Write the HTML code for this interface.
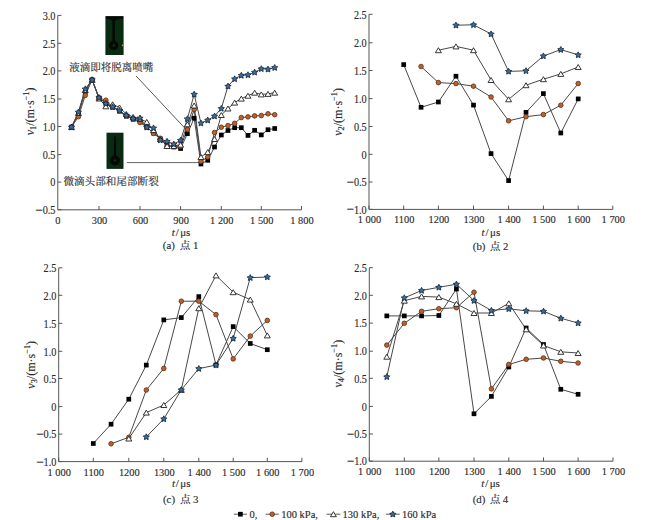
<!DOCTYPE html>
<html><head><meta charset="utf-8"><title>figure</title><style>html,body{margin:0;padding:0;background:#fff;width:650px;height:520px;overflow:hidden}svg{display:block}text{stroke:#333;stroke-width:.15px}</style></head><body>
<svg width="650" height="520" viewBox="0 0 650 520" font-family='"Liberation Serif", "Noto Serif CJK SC", serif' fill="#2a2a2a">
<rect width="650" height="520" fill="#fff"/>
<path d="M57.8,15.4 V209.8 H301.5" fill="none" stroke="#555" stroke-width="1"/>
<path d="M57.8,15.4 h3.6" stroke="#555" stroke-width="1"/>
<path d="M57.8,43.3 h3.6" stroke="#555" stroke-width="1"/>
<path d="M57.8,70.9 h3.6" stroke="#555" stroke-width="1"/>
<path d="M57.8,99 h3.6" stroke="#555" stroke-width="1"/>
<path d="M57.8,126.5 h3.6" stroke="#555" stroke-width="1"/>
<path d="M57.8,154.6 h3.6" stroke="#555" stroke-width="1"/>
<path d="M57.8,182.1 h3.6" stroke="#555" stroke-width="1"/>
<path d="M57.8,209.8 h3.6" stroke="#555" stroke-width="1"/>
<path d="M99,209.8 v-3.8" stroke="#555" stroke-width="1"/>
<path d="M140,209.8 v-3.8" stroke="#555" stroke-width="1"/>
<path d="M180.6,209.8 v-3.8" stroke="#555" stroke-width="1"/>
<path d="M221.3,209.8 v-3.8" stroke="#555" stroke-width="1"/>
<path d="M261.3,209.8 v-3.8" stroke="#555" stroke-width="1"/>
<path d="M301.5,209.8 v-3.8" stroke="#555" stroke-width="1"/>
<text transform="translate(55.5,19.6) scale(0.87,1)" text-anchor="end" font-size="11.8">3.0</text>
<text transform="translate(55.5,47.5) scale(0.87,1)" text-anchor="end" font-size="11.8">2.5</text>
<text transform="translate(55.5,75.1) scale(0.87,1)" text-anchor="end" font-size="11.8">2.0</text>
<text transform="translate(55.5,103.2) scale(0.87,1)" text-anchor="end" font-size="11.8">1.5</text>
<text transform="translate(55.5,130.7) scale(0.87,1)" text-anchor="end" font-size="11.8">1.0</text>
<text transform="translate(55.5,158.8) scale(0.87,1)" text-anchor="end" font-size="11.8">0.5</text>
<text transform="translate(55.5,186.3) scale(0.87,1)" text-anchor="end" font-size="11.8">0</text>
<text transform="translate(55.5,214) scale(0.87,1)" text-anchor="end" font-size="11.8"><tspan font-size="15" dy="0.8">−</tspan><tspan dy="-0.8">0.5</tspan></text>
<text transform="translate(99.5,223.7) scale(0.92,1)" text-anchor="middle" font-size="11.3">300</text>
<text transform="translate(140.5,223.7) scale(0.92,1)" text-anchor="middle" font-size="11.3">600</text>
<text transform="translate(181.1,223.7) scale(0.92,1)" text-anchor="middle" font-size="11.3">900</text>
<text transform="translate(221.8,223.7) scale(0.92,1)" text-anchor="middle" font-size="11.3">1 200</text>
<text transform="translate(261.8,223.7) scale(0.92,1)" text-anchor="middle" font-size="11.3">1 500</text>
<text transform="translate(302,223.7) scale(0.92,1)" text-anchor="middle" font-size="11.3">1 800</text>
<text transform="translate(57.8,223.7) scale(0.92,1)" text-anchor="middle" font-size="11.3">0</text>
<rect x="105.4" y="16.3" width="18.2" height="38.7" fill="#092b12"/><path d="M105.9,16.3 H123.1 V18.5 Q116.2,18.9 115,21.3 V41.6 H112.4 V21.3 Q111.2,18.9 105.9,18.5 Z" fill="#050a05"/><circle cx="113.7" cy="45.4" r="4.8" fill="#050a05"/><circle cx="113.7" cy="45.4" r="1.1" fill="#1a3a18"/>
<circle cx="122.6" cy="45.4" r="0.8" fill="#c89a3a"/>
<rect x="106.5" y="132.7" width="17" height="36.2" fill="#092b12"/><rect x="113.9" y="136.4" width="2.2" height="24" fill="#050a05"/><circle cx="115" cy="160.4" r="5" fill="#050a05"/><circle cx="115" cy="160.4" r="1.1" fill="#1a3a18"/>
<path d="M136.2,76.1 L186.4,129.8" stroke="#444" stroke-width="0.9"/>
<path d="M126.9,162.6 H199.5" stroke="#555" stroke-width="0.9"/>
<text x="69.2" y="71.0" font-size="10.5" fill="#2a2a2a" font-family='"Liberation Serif", "Noto Serif CJK SC", serif'>液滴即将脱离喷嘴</text>
<text x="63.4" y="184.8" font-size="10.6" fill="#2a2a2a" font-family='"Liberation Serif", "Noto Serif CJK SC", serif'>微滴头部和尾部断裂</text>
<polyline points="71.53,127.1 78.4,114 85.27,92 92.13,79.8 99,98 105.83,103 112.67,107 119.5,111 126.33,116 133.17,119 140,121 146.77,127 153.53,133 160.3,139 167.07,145 173.83,147 180.6,148.5 187.38,133.7 194.17,118.2 200.95,164 207.73,160.3 214.52,147 221.3,135 227.97,130.5 234.63,127.7 241.3,127.7 247.97,135.4 254.63,130.3 261.3,134.9 268,129.7 274.7,128.5" fill="none" stroke="#484848" stroke-width="1.0" stroke-linejoin="round"/>
<polyline points="71.53,127.1 78.4,116.7 85.27,95.4 92.13,79.8 99,98 105.83,100.2 112.67,107 119.5,111 126.33,116 133.17,119 140,122.6 146.77,127 153.53,133.4 160.3,138.3 167.07,146.1 173.83,146 180.6,146.4 187.38,129.6 194.17,109.6 200.95,161.5 207.73,157 214.52,132.5 221.3,127.2 227.97,125.6 234.63,123.3 241.3,117.6 247.97,116.9 254.63,115.9 261.3,115.6 268,113.8 274.7,114.7" fill="none" stroke="#484848" stroke-width="1.0" stroke-linejoin="round"/>
<polyline points="71.53,127.1 78.4,113 85.27,90 92.13,79.8 99,98.5 105.83,106.3 112.67,104.3 119.5,107.5 126.33,114 133.17,117 140,119 146.77,121.9 153.53,130 160.3,139 167.07,146 173.83,146 180.6,144.7 187.38,124.3 194.17,105.5 200.95,157 207.73,152.1 214.52,139 221.3,115 227.97,108.5 234.63,102.6 241.3,98.6 247.97,95.7 254.63,92.7 261.3,94.4 268,93.9 274.7,92.7" fill="none" stroke="#484848" stroke-width="1.0" stroke-linejoin="round"/>
<polyline points="71.53,127.1 78.4,112.1 85.27,89 92.13,79.8 99,97.7 105.83,103.5 112.67,106.9 119.5,110.4 126.33,115.5 133.17,118.6 140,118.1 146.77,127.3 153.53,128 160.3,140.1 167.07,141.4 173.83,144.1 180.6,140.3 187.38,118.9 194.17,94.3 200.95,123.1 207.73,120.2 214.52,116.1 221.3,108.5 227.97,86.2 234.63,78.9 241.3,75.4 247.97,74.9 254.63,72.3 261.3,68.8 268,69.2 274.7,67.6" fill="none" stroke="#484848" stroke-width="1.0" stroke-linejoin="round"/>
<rect x="69.18" y="124.75" width="4.7" height="4.7" fill="#000"/>
<rect x="76.05" y="111.65" width="4.7" height="4.7" fill="#000"/>
<rect x="82.92" y="89.65" width="4.7" height="4.7" fill="#000"/>
<rect x="89.78" y="77.45" width="4.7" height="4.7" fill="#000"/>
<rect x="96.65" y="95.65" width="4.7" height="4.7" fill="#000"/>
<rect x="103.48" y="100.65" width="4.7" height="4.7" fill="#000"/>
<rect x="110.32" y="104.65" width="4.7" height="4.7" fill="#000"/>
<rect x="117.15" y="108.65" width="4.7" height="4.7" fill="#000"/>
<rect x="123.98" y="113.65" width="4.7" height="4.7" fill="#000"/>
<rect x="130.82" y="116.65" width="4.7" height="4.7" fill="#000"/>
<rect x="137.65" y="118.65" width="4.7" height="4.7" fill="#000"/>
<rect x="144.42" y="124.65" width="4.7" height="4.7" fill="#000"/>
<rect x="151.18" y="130.65" width="4.7" height="4.7" fill="#000"/>
<rect x="157.95" y="136.65" width="4.7" height="4.7" fill="#000"/>
<rect x="164.72" y="142.65" width="4.7" height="4.7" fill="#000"/>
<rect x="171.48" y="144.65" width="4.7" height="4.7" fill="#000"/>
<rect x="178.25" y="146.15" width="4.7" height="4.7" fill="#000"/>
<rect x="185.03" y="131.35" width="4.7" height="4.7" fill="#000"/>
<rect x="191.82" y="115.85" width="4.7" height="4.7" fill="#000"/>
<rect x="198.6" y="161.65" width="4.7" height="4.7" fill="#000"/>
<rect x="205.38" y="157.95" width="4.7" height="4.7" fill="#000"/>
<rect x="212.17" y="144.65" width="4.7" height="4.7" fill="#000"/>
<rect x="218.95" y="132.65" width="4.7" height="4.7" fill="#000"/>
<rect x="225.62" y="128.15" width="4.7" height="4.7" fill="#000"/>
<rect x="232.28" y="125.35" width="4.7" height="4.7" fill="#000"/>
<rect x="238.95" y="125.35" width="4.7" height="4.7" fill="#000"/>
<rect x="245.62" y="133.05" width="4.7" height="4.7" fill="#000"/>
<rect x="252.28" y="127.95" width="4.7" height="4.7" fill="#000"/>
<rect x="258.95" y="132.55" width="4.7" height="4.7" fill="#000"/>
<rect x="265.65" y="127.35" width="4.7" height="4.7" fill="#000"/>
<rect x="272.35" y="126.15" width="4.7" height="4.7" fill="#000"/>
<circle cx="71.53" cy="127.1" r="2.3" fill="#bd612c" stroke="#5e2c10" stroke-width="0.8"/>
<circle cx="78.4" cy="116.7" r="2.3" fill="#bd612c" stroke="#5e2c10" stroke-width="0.8"/>
<circle cx="85.27" cy="95.4" r="2.3" fill="#bd612c" stroke="#5e2c10" stroke-width="0.8"/>
<circle cx="92.13" cy="79.8" r="2.3" fill="#bd612c" stroke="#5e2c10" stroke-width="0.8"/>
<circle cx="99" cy="98" r="2.3" fill="#bd612c" stroke="#5e2c10" stroke-width="0.8"/>
<circle cx="105.83" cy="100.2" r="2.3" fill="#bd612c" stroke="#5e2c10" stroke-width="0.8"/>
<circle cx="112.67" cy="107" r="2.3" fill="#bd612c" stroke="#5e2c10" stroke-width="0.8"/>
<circle cx="119.5" cy="111" r="2.3" fill="#bd612c" stroke="#5e2c10" stroke-width="0.8"/>
<circle cx="126.33" cy="116" r="2.3" fill="#bd612c" stroke="#5e2c10" stroke-width="0.8"/>
<circle cx="133.17" cy="119" r="2.3" fill="#bd612c" stroke="#5e2c10" stroke-width="0.8"/>
<circle cx="140" cy="122.6" r="2.3" fill="#bd612c" stroke="#5e2c10" stroke-width="0.8"/>
<circle cx="146.77" cy="127" r="2.3" fill="#bd612c" stroke="#5e2c10" stroke-width="0.8"/>
<circle cx="153.53" cy="133.4" r="2.3" fill="#bd612c" stroke="#5e2c10" stroke-width="0.8"/>
<circle cx="160.3" cy="138.3" r="2.3" fill="#bd612c" stroke="#5e2c10" stroke-width="0.8"/>
<circle cx="167.07" cy="146.1" r="2.3" fill="#bd612c" stroke="#5e2c10" stroke-width="0.8"/>
<circle cx="173.83" cy="146" r="2.3" fill="#bd612c" stroke="#5e2c10" stroke-width="0.8"/>
<circle cx="180.6" cy="146.4" r="2.3" fill="#bd612c" stroke="#5e2c10" stroke-width="0.8"/>
<circle cx="187.38" cy="129.6" r="2.3" fill="#bd612c" stroke="#5e2c10" stroke-width="0.8"/>
<circle cx="194.17" cy="109.6" r="2.3" fill="#bd612c" stroke="#5e2c10" stroke-width="0.8"/>
<circle cx="200.95" cy="161.5" r="2.3" fill="#bd612c" stroke="#5e2c10" stroke-width="0.8"/>
<circle cx="207.73" cy="157" r="2.3" fill="#bd612c" stroke="#5e2c10" stroke-width="0.8"/>
<circle cx="214.52" cy="132.5" r="2.3" fill="#bd612c" stroke="#5e2c10" stroke-width="0.8"/>
<circle cx="221.3" cy="127.2" r="2.3" fill="#bd612c" stroke="#5e2c10" stroke-width="0.8"/>
<circle cx="227.97" cy="125.6" r="2.3" fill="#bd612c" stroke="#5e2c10" stroke-width="0.8"/>
<circle cx="234.63" cy="123.3" r="2.3" fill="#bd612c" stroke="#5e2c10" stroke-width="0.8"/>
<circle cx="241.3" cy="117.6" r="2.3" fill="#bd612c" stroke="#5e2c10" stroke-width="0.8"/>
<circle cx="247.97" cy="116.9" r="2.3" fill="#bd612c" stroke="#5e2c10" stroke-width="0.8"/>
<circle cx="254.63" cy="115.9" r="2.3" fill="#bd612c" stroke="#5e2c10" stroke-width="0.8"/>
<circle cx="261.3" cy="115.6" r="2.3" fill="#bd612c" stroke="#5e2c10" stroke-width="0.8"/>
<circle cx="268" cy="113.8" r="2.3" fill="#bd612c" stroke="#5e2c10" stroke-width="0.8"/>
<circle cx="274.7" cy="114.7" r="2.3" fill="#bd612c" stroke="#5e2c10" stroke-width="0.8"/>
<polygon points="68.53,129.6 74.53,129.6 71.53,124.6" fill="#fff" stroke="#222" stroke-width="0.9" stroke-linejoin="miter"/>
<polygon points="75.4,115.5 81.4,115.5 78.4,110.5" fill="#fff" stroke="#222" stroke-width="0.9" stroke-linejoin="miter"/>
<polygon points="82.27,92.5 88.27,92.5 85.27,87.5" fill="#fff" stroke="#222" stroke-width="0.9" stroke-linejoin="miter"/>
<polygon points="89.13,82.3 95.13,82.3 92.13,77.3" fill="#fff" stroke="#222" stroke-width="0.9" stroke-linejoin="miter"/>
<polygon points="96,101 102,101 99,96" fill="#fff" stroke="#222" stroke-width="0.9" stroke-linejoin="miter"/>
<polygon points="102.83,108.8 108.83,108.8 105.83,103.8" fill="#fff" stroke="#222" stroke-width="0.9" stroke-linejoin="miter"/>
<polygon points="109.67,106.8 115.67,106.8 112.67,101.8" fill="#fff" stroke="#222" stroke-width="0.9" stroke-linejoin="miter"/>
<polygon points="116.5,110 122.5,110 119.5,105" fill="#fff" stroke="#222" stroke-width="0.9" stroke-linejoin="miter"/>
<polygon points="123.33,116.5 129.33,116.5 126.33,111.5" fill="#fff" stroke="#222" stroke-width="0.9" stroke-linejoin="miter"/>
<polygon points="130.17,119.5 136.17,119.5 133.17,114.5" fill="#fff" stroke="#222" stroke-width="0.9" stroke-linejoin="miter"/>
<polygon points="137,121.5 143,121.5 140,116.5" fill="#fff" stroke="#222" stroke-width="0.9" stroke-linejoin="miter"/>
<polygon points="143.77,124.4 149.77,124.4 146.77,119.4" fill="#fff" stroke="#222" stroke-width="0.9" stroke-linejoin="miter"/>
<polygon points="150.53,132.5 156.53,132.5 153.53,127.5" fill="#fff" stroke="#222" stroke-width="0.9" stroke-linejoin="miter"/>
<polygon points="157.3,141.5 163.3,141.5 160.3,136.5" fill="#fff" stroke="#222" stroke-width="0.9" stroke-linejoin="miter"/>
<polygon points="164.07,148.5 170.07,148.5 167.07,143.5" fill="#fff" stroke="#222" stroke-width="0.9" stroke-linejoin="miter"/>
<polygon points="170.83,148.5 176.83,148.5 173.83,143.5" fill="#fff" stroke="#222" stroke-width="0.9" stroke-linejoin="miter"/>
<polygon points="177.6,147.2 183.6,147.2 180.6,142.2" fill="#fff" stroke="#222" stroke-width="0.9" stroke-linejoin="miter"/>
<polygon points="184.38,126.8 190.38,126.8 187.38,121.8" fill="#fff" stroke="#222" stroke-width="0.9" stroke-linejoin="miter"/>
<polygon points="191.17,108 197.17,108 194.17,103" fill="#fff" stroke="#222" stroke-width="0.9" stroke-linejoin="miter"/>
<polygon points="197.95,159.5 203.95,159.5 200.95,154.5" fill="#fff" stroke="#222" stroke-width="0.9" stroke-linejoin="miter"/>
<polygon points="204.73,154.6 210.73,154.6 207.73,149.6" fill="#fff" stroke="#222" stroke-width="0.9" stroke-linejoin="miter"/>
<polygon points="211.52,141.5 217.52,141.5 214.52,136.5" fill="#fff" stroke="#222" stroke-width="0.9" stroke-linejoin="miter"/>
<polygon points="218.3,117.5 224.3,117.5 221.3,112.5" fill="#fff" stroke="#222" stroke-width="0.9" stroke-linejoin="miter"/>
<polygon points="224.97,111 230.97,111 227.97,106" fill="#fff" stroke="#222" stroke-width="0.9" stroke-linejoin="miter"/>
<polygon points="231.63,105.1 237.63,105.1 234.63,100.1" fill="#fff" stroke="#222" stroke-width="0.9" stroke-linejoin="miter"/>
<polygon points="238.3,101.1 244.3,101.1 241.3,96.1" fill="#fff" stroke="#222" stroke-width="0.9" stroke-linejoin="miter"/>
<polygon points="244.97,98.2 250.97,98.2 247.97,93.2" fill="#fff" stroke="#222" stroke-width="0.9" stroke-linejoin="miter"/>
<polygon points="251.63,95.2 257.63,95.2 254.63,90.2" fill="#fff" stroke="#222" stroke-width="0.9" stroke-linejoin="miter"/>
<polygon points="258.3,96.9 264.3,96.9 261.3,91.9" fill="#fff" stroke="#222" stroke-width="0.9" stroke-linejoin="miter"/>
<polygon points="265,96.4 271,96.4 268,91.4" fill="#fff" stroke="#222" stroke-width="0.9" stroke-linejoin="miter"/>
<polygon points="271.7,95.2 277.7,95.2 274.7,90.2" fill="#fff" stroke="#222" stroke-width="0.9" stroke-linejoin="miter"/>
<polygon points="71.53,124 72.5,125.92 74.62,126.25 73.1,127.76 73.44,129.88 71.53,128.9 69.62,129.88 69.96,127.76 68.44,126.25 70.56,125.92" fill="#3270a2" stroke="#18202e" stroke-width="0.8" stroke-linejoin="miter"/>
<polygon points="78.4,109 79.37,110.92 81.49,111.25 79.97,112.76 80.31,114.88 78.4,113.9 76.49,114.88 76.83,112.76 75.31,111.25 77.43,110.92" fill="#3270a2" stroke="#18202e" stroke-width="0.8" stroke-linejoin="miter"/>
<polygon points="85.27,85.9 86.24,87.82 88.36,88.15 86.84,89.66 87.18,91.78 85.27,90.8 83.36,91.78 83.7,89.66 82.18,88.15 84.3,87.82" fill="#3270a2" stroke="#18202e" stroke-width="0.8" stroke-linejoin="miter"/>
<polygon points="92.13,76.7 93.1,78.62 95.22,78.95 93.7,80.46 94.04,82.58 92.13,81.6 90.22,82.58 90.56,80.46 89.04,78.95 91.16,78.62" fill="#3270a2" stroke="#18202e" stroke-width="0.8" stroke-linejoin="miter"/>
<polygon points="99,94.6 99.97,96.52 102.09,96.85 100.57,98.36 100.91,100.48 99,99.5 97.09,100.48 97.43,98.36 95.91,96.85 98.03,96.52" fill="#3270a2" stroke="#18202e" stroke-width="0.8" stroke-linejoin="miter"/>
<polygon points="105.83,100.4 106.8,102.32 108.92,102.65 107.4,104.16 107.74,106.28 105.83,105.3 103.92,106.28 104.26,104.16 102.74,102.65 104.86,102.32" fill="#3270a2" stroke="#18202e" stroke-width="0.8" stroke-linejoin="miter"/>
<polygon points="112.67,103.8 113.64,105.72 115.76,106.05 114.24,107.56 114.58,109.68 112.67,108.7 110.76,109.68 111.1,107.56 109.58,106.05 111.7,105.72" fill="#3270a2" stroke="#18202e" stroke-width="0.8" stroke-linejoin="miter"/>
<polygon points="119.5,107.3 120.47,109.22 122.59,109.55 121.07,111.06 121.41,113.18 119.5,112.2 117.59,113.18 117.93,111.06 116.41,109.55 118.53,109.22" fill="#3270a2" stroke="#18202e" stroke-width="0.8" stroke-linejoin="miter"/>
<polygon points="126.33,112.4 127.3,114.32 129.42,114.65 127.9,116.16 128.24,118.28 126.33,117.3 124.42,118.28 124.76,116.16 123.24,114.65 125.36,114.32" fill="#3270a2" stroke="#18202e" stroke-width="0.8" stroke-linejoin="miter"/>
<polygon points="133.17,115.5 134.14,117.42 136.26,117.75 134.74,119.26 135.08,121.38 133.17,120.4 131.26,121.38 131.6,119.26 130.08,117.75 132.2,117.42" fill="#3270a2" stroke="#18202e" stroke-width="0.8" stroke-linejoin="miter"/>
<polygon points="140,115 140.97,116.92 143.09,117.25 141.57,118.76 141.91,120.88 140,119.9 138.09,120.88 138.43,118.76 136.91,117.25 139.03,116.92" fill="#3270a2" stroke="#18202e" stroke-width="0.8" stroke-linejoin="miter"/>
<polygon points="146.77,124.2 147.74,126.12 149.86,126.45 148.34,127.96 148.68,130.08 146.77,129.1 144.86,130.08 145.2,127.96 143.68,126.45 145.8,126.12" fill="#3270a2" stroke="#18202e" stroke-width="0.8" stroke-linejoin="miter"/>
<polygon points="153.53,124.9 154.5,126.82 156.62,127.15 155.1,128.66 155.44,130.78 153.53,129.8 151.62,130.78 151.96,128.66 150.44,127.15 152.56,126.82" fill="#3270a2" stroke="#18202e" stroke-width="0.8" stroke-linejoin="miter"/>
<polygon points="160.3,137 161.27,138.92 163.39,139.25 161.87,140.76 162.21,142.88 160.3,141.9 158.39,142.88 158.73,140.76 157.21,139.25 159.33,138.92" fill="#3270a2" stroke="#18202e" stroke-width="0.8" stroke-linejoin="miter"/>
<polygon points="167.07,138.3 168.04,140.22 170.16,140.55 168.64,142.06 168.98,144.18 167.07,143.2 165.16,144.18 165.5,142.06 163.98,140.55 166.1,140.22" fill="#3270a2" stroke="#18202e" stroke-width="0.8" stroke-linejoin="miter"/>
<polygon points="173.83,141 174.8,142.92 176.92,143.25 175.4,144.76 175.74,146.88 173.83,145.9 171.92,146.88 172.26,144.76 170.74,143.25 172.86,142.92" fill="#3270a2" stroke="#18202e" stroke-width="0.8" stroke-linejoin="miter"/>
<polygon points="180.6,137.2 181.57,139.12 183.69,139.45 182.17,140.96 182.51,143.08 180.6,142.1 178.69,143.08 179.03,140.96 177.51,139.45 179.63,139.12" fill="#3270a2" stroke="#18202e" stroke-width="0.8" stroke-linejoin="miter"/>
<polygon points="187.38,115.8 188.35,117.72 190.47,118.05 188.95,119.56 189.29,121.68 187.38,120.7 185.47,121.68 185.81,119.56 184.29,118.05 186.41,117.72" fill="#3270a2" stroke="#18202e" stroke-width="0.8" stroke-linejoin="miter"/>
<polygon points="194.17,91.2 195.14,93.12 197.26,93.45 195.74,94.96 196.08,97.08 194.17,96.1 192.26,97.08 192.6,94.96 191.08,93.45 193.2,93.12" fill="#3270a2" stroke="#18202e" stroke-width="0.8" stroke-linejoin="miter"/>
<polygon points="200.95,120 201.92,121.92 204.04,122.25 202.52,123.76 202.86,125.88 200.95,124.9 199.04,125.88 199.38,123.76 197.86,122.25 199.98,121.92" fill="#3270a2" stroke="#18202e" stroke-width="0.8" stroke-linejoin="miter"/>
<polygon points="207.73,117.1 208.7,119.02 210.82,119.35 209.3,120.86 209.64,122.98 207.73,122 205.82,122.98 206.16,120.86 204.64,119.35 206.76,119.02" fill="#3270a2" stroke="#18202e" stroke-width="0.8" stroke-linejoin="miter"/>
<polygon points="214.52,113 215.49,114.92 217.61,115.25 216.09,116.76 216.43,118.88 214.52,117.9 212.61,118.88 212.95,116.76 211.43,115.25 213.55,114.92" fill="#3270a2" stroke="#18202e" stroke-width="0.8" stroke-linejoin="miter"/>
<polygon points="221.3,105.4 222.27,107.32 224.39,107.65 222.87,109.16 223.21,111.28 221.3,110.3 219.39,111.28 219.73,109.16 218.21,107.65 220.33,107.32" fill="#3270a2" stroke="#18202e" stroke-width="0.8" stroke-linejoin="miter"/>
<polygon points="227.97,83.1 228.94,85.02 231.06,85.35 229.54,86.86 229.88,88.98 227.97,88 226.06,88.98 226.4,86.86 224.88,85.35 227,85.02" fill="#3270a2" stroke="#18202e" stroke-width="0.8" stroke-linejoin="miter"/>
<polygon points="234.63,75.8 235.6,77.72 237.72,78.05 236.2,79.56 236.54,81.68 234.63,80.7 232.72,81.68 233.06,79.56 231.54,78.05 233.66,77.72" fill="#3270a2" stroke="#18202e" stroke-width="0.8" stroke-linejoin="miter"/>
<polygon points="241.3,72.3 242.27,74.22 244.39,74.55 242.87,76.06 243.21,78.18 241.3,77.2 239.39,78.18 239.73,76.06 238.21,74.55 240.33,74.22" fill="#3270a2" stroke="#18202e" stroke-width="0.8" stroke-linejoin="miter"/>
<polygon points="247.97,71.8 248.94,73.72 251.06,74.05 249.54,75.56 249.88,77.68 247.97,76.7 246.06,77.68 246.4,75.56 244.88,74.05 247,73.72" fill="#3270a2" stroke="#18202e" stroke-width="0.8" stroke-linejoin="miter"/>
<polygon points="254.63,69.2 255.6,71.12 257.72,71.45 256.2,72.96 256.54,75.08 254.63,74.1 252.72,75.08 253.06,72.96 251.54,71.45 253.66,71.12" fill="#3270a2" stroke="#18202e" stroke-width="0.8" stroke-linejoin="miter"/>
<polygon points="261.3,65.7 262.27,67.62 264.39,67.95 262.87,69.46 263.21,71.58 261.3,70.6 259.39,71.58 259.73,69.46 258.21,67.95 260.33,67.62" fill="#3270a2" stroke="#18202e" stroke-width="0.8" stroke-linejoin="miter"/>
<polygon points="268,66.1 268.97,68.02 271.09,68.35 269.57,69.86 269.91,71.98 268,71 266.09,71.98 266.43,69.86 264.91,68.35 267.03,68.02" fill="#3270a2" stroke="#18202e" stroke-width="0.8" stroke-linejoin="miter"/>
<polygon points="274.7,64.5 275.67,66.42 277.79,66.75 276.27,68.26 276.61,70.38 274.7,69.4 272.79,70.38 273.13,68.26 271.61,66.75 273.73,66.42" fill="#3270a2" stroke="#18202e" stroke-width="0.8" stroke-linejoin="miter"/>
<text transform="translate(33.6,135.3) rotate(-90)" font-size="12"><tspan font-style="italic">v</tspan><tspan font-size="8.4" dy="2.4">1</tspan><tspan dy="-2.4">/(m·s</tspan><tspan font-size="8.4" dy="-4.6">−1</tspan><tspan dy="4.6">)</tspan></text>
<text x="171.8" y="236" font-size="11"><tspan font-style="italic">t</tspan><tspan x="175.7">/</tspan><tspan x="180.2">μs</tspan></text>
<text x="162.8" y="249.3" font-size="10.8">(a)<tspan x="180.1" font-size="10.3">点</tspan><tspan x="192.9">1</tspan></text>
<path d="M369,14.3 V209.4 H612.8" fill="none" stroke="#555" stroke-width="1"/>
<path d="M369,14.3 h3.6" stroke="#555" stroke-width="1"/>
<path d="M369,42.8 h3.6" stroke="#555" stroke-width="1"/>
<path d="M369,70.5 h3.6" stroke="#555" stroke-width="1"/>
<path d="M369,98.6 h3.6" stroke="#555" stroke-width="1"/>
<path d="M369,126.5 h3.6" stroke="#555" stroke-width="1"/>
<path d="M369,154.3 h3.6" stroke="#555" stroke-width="1"/>
<path d="M369,182 h3.6" stroke="#555" stroke-width="1"/>
<path d="M369,209.4 h3.6" stroke="#555" stroke-width="1"/>
<path d="M369,209.4 v-3.8" stroke="#555" stroke-width="1"/>
<path d="M403.7,209.4 v-3.8" stroke="#555" stroke-width="1"/>
<path d="M438.4,209.4 v-3.8" stroke="#555" stroke-width="1"/>
<path d="M473.5,209.4 v-3.8" stroke="#555" stroke-width="1"/>
<path d="M508.6,209.4 v-3.8" stroke="#555" stroke-width="1"/>
<path d="M543.4,209.4 v-3.8" stroke="#555" stroke-width="1"/>
<path d="M578.2,209.4 v-3.8" stroke="#555" stroke-width="1"/>
<path d="M612.8,209.4 v-3.8" stroke="#555" stroke-width="1"/>
<text transform="translate(366.7,18.5) scale(0.87,1)" text-anchor="end" font-size="11.8">2.5</text>
<text transform="translate(366.7,47) scale(0.87,1)" text-anchor="end" font-size="11.8">2.0</text>
<text transform="translate(366.7,74.7) scale(0.87,1)" text-anchor="end" font-size="11.8">1.5</text>
<text transform="translate(366.7,102.8) scale(0.87,1)" text-anchor="end" font-size="11.8">1.0</text>
<text transform="translate(366.7,130.7) scale(0.87,1)" text-anchor="end" font-size="11.8">0.5</text>
<text transform="translate(366.7,158.5) scale(0.87,1)" text-anchor="end" font-size="11.8">0</text>
<text transform="translate(366.7,186.2) scale(0.87,1)" text-anchor="end" font-size="11.8"><tspan font-size="15" dy="0.8">−</tspan><tspan dy="-0.8">0.5</tspan></text>
<text transform="translate(366.7,213.6) scale(0.87,1)" text-anchor="end" font-size="11.8"><tspan font-size="15" dy="0.8">−</tspan><tspan dy="-0.8">1.0</tspan></text>
<text transform="translate(369.5,223.3) scale(0.92,1)" text-anchor="middle" font-size="11.3">1 000</text>
<text transform="translate(404.2,223.3) scale(0.92,1)" text-anchor="middle" font-size="11.3">1100</text>
<text transform="translate(438.9,223.3) scale(0.92,1)" text-anchor="middle" font-size="11.3">1200</text>
<text transform="translate(474,223.3) scale(0.92,1)" text-anchor="middle" font-size="11.3">1300</text>
<text transform="translate(509.1,223.3) scale(0.92,1)" text-anchor="middle" font-size="11.3">1 400</text>
<text transform="translate(543.9,223.3) scale(0.92,1)" text-anchor="middle" font-size="11.3">1 500</text>
<text transform="translate(578.7,223.3) scale(0.92,1)" text-anchor="middle" font-size="11.3">1 600</text>
<text transform="translate(613.3,223.3) scale(0.92,1)" text-anchor="middle" font-size="11.3">1 700</text>
<polyline points="403.7,64.6 421.05,107.3 438.4,102 455.95,76.2 473.5,105.1 491.05,153.6 508.6,180.6 526,112.4 543.4,93.6 560.8,133 578.2,98.9" fill="none" stroke="#484848" stroke-width="1.0" stroke-linejoin="round"/>
<polyline points="421.05,66.5 438.4,82.6 455.95,83.6 473.5,86.2 491.05,97 508.6,120.8 526,116.7 543.4,114.6 560.8,105.2 578.2,83.5" fill="none" stroke="#484848" stroke-width="1.0" stroke-linejoin="round"/>
<polyline points="438.4,50.2 455.95,46.4 473.5,50.2 491.05,80 508.6,99.3 526,85.2 543.4,79.2 560.8,73.9 578.2,67" fill="none" stroke="#484848" stroke-width="1.0" stroke-linejoin="round"/>
<polyline points="455.95,25.2 473.5,24.8 491.05,34 508.6,71.4 526,70.8 543.4,56 560.8,49.6 578.2,54.9" fill="none" stroke="#484848" stroke-width="1.0" stroke-linejoin="round"/>
<rect x="401.35" y="62.25" width="4.7" height="4.7" fill="#000"/>
<rect x="418.7" y="104.95" width="4.7" height="4.7" fill="#000"/>
<rect x="436.05" y="99.65" width="4.7" height="4.7" fill="#000"/>
<rect x="453.6" y="73.85" width="4.7" height="4.7" fill="#000"/>
<rect x="471.15" y="102.75" width="4.7" height="4.7" fill="#000"/>
<rect x="488.7" y="151.25" width="4.7" height="4.7" fill="#000"/>
<rect x="506.25" y="178.25" width="4.7" height="4.7" fill="#000"/>
<rect x="523.65" y="110.05" width="4.7" height="4.7" fill="#000"/>
<rect x="541.05" y="91.25" width="4.7" height="4.7" fill="#000"/>
<rect x="558.45" y="130.65" width="4.7" height="4.7" fill="#000"/>
<rect x="575.85" y="96.55" width="4.7" height="4.7" fill="#000"/>
<circle cx="421.05" cy="66.5" r="2.3" fill="#bd612c" stroke="#5e2c10" stroke-width="0.8"/>
<circle cx="438.4" cy="82.6" r="2.3" fill="#bd612c" stroke="#5e2c10" stroke-width="0.8"/>
<circle cx="455.95" cy="83.6" r="2.3" fill="#bd612c" stroke="#5e2c10" stroke-width="0.8"/>
<circle cx="473.5" cy="86.2" r="2.3" fill="#bd612c" stroke="#5e2c10" stroke-width="0.8"/>
<circle cx="491.05" cy="97" r="2.3" fill="#bd612c" stroke="#5e2c10" stroke-width="0.8"/>
<circle cx="508.6" cy="120.8" r="2.3" fill="#bd612c" stroke="#5e2c10" stroke-width="0.8"/>
<circle cx="526" cy="116.7" r="2.3" fill="#bd612c" stroke="#5e2c10" stroke-width="0.8"/>
<circle cx="543.4" cy="114.6" r="2.3" fill="#bd612c" stroke="#5e2c10" stroke-width="0.8"/>
<circle cx="560.8" cy="105.2" r="2.3" fill="#bd612c" stroke="#5e2c10" stroke-width="0.8"/>
<circle cx="578.2" cy="83.5" r="2.3" fill="#bd612c" stroke="#5e2c10" stroke-width="0.8"/>
<polygon points="435.4,52.7 441.4,52.7 438.4,47.7" fill="#fff" stroke="#222" stroke-width="0.9" stroke-linejoin="miter"/>
<polygon points="452.95,48.9 458.95,48.9 455.95,43.9" fill="#fff" stroke="#222" stroke-width="0.9" stroke-linejoin="miter"/>
<polygon points="470.5,52.7 476.5,52.7 473.5,47.7" fill="#fff" stroke="#222" stroke-width="0.9" stroke-linejoin="miter"/>
<polygon points="488.05,82.5 494.05,82.5 491.05,77.5" fill="#fff" stroke="#222" stroke-width="0.9" stroke-linejoin="miter"/>
<polygon points="505.6,101.8 511.6,101.8 508.6,96.8" fill="#fff" stroke="#222" stroke-width="0.9" stroke-linejoin="miter"/>
<polygon points="523,87.7 529,87.7 526,82.7" fill="#fff" stroke="#222" stroke-width="0.9" stroke-linejoin="miter"/>
<polygon points="540.4,81.7 546.4,81.7 543.4,76.7" fill="#fff" stroke="#222" stroke-width="0.9" stroke-linejoin="miter"/>
<polygon points="557.8,76.4 563.8,76.4 560.8,71.4" fill="#fff" stroke="#222" stroke-width="0.9" stroke-linejoin="miter"/>
<polygon points="575.2,69.5 581.2,69.5 578.2,64.5" fill="#fff" stroke="#222" stroke-width="0.9" stroke-linejoin="miter"/>
<polygon points="455.95,22.1 456.92,24.02 459.04,24.35 457.52,25.86 457.86,27.98 455.95,27 454.04,27.98 454.38,25.86 452.86,24.35 454.98,24.02" fill="#3270a2" stroke="#18202e" stroke-width="0.8" stroke-linejoin="miter"/>
<polygon points="473.5,21.7 474.47,23.62 476.59,23.95 475.07,25.46 475.41,27.58 473.5,26.6 471.59,27.58 471.93,25.46 470.41,23.95 472.53,23.62" fill="#3270a2" stroke="#18202e" stroke-width="0.8" stroke-linejoin="miter"/>
<polygon points="491.05,30.9 492.02,32.82 494.14,33.15 492.62,34.66 492.96,36.78 491.05,35.8 489.14,36.78 489.48,34.66 487.96,33.15 490.08,32.82" fill="#3270a2" stroke="#18202e" stroke-width="0.8" stroke-linejoin="miter"/>
<polygon points="508.6,68.3 509.57,70.22 511.69,70.55 510.17,72.06 510.51,74.18 508.6,73.2 506.69,74.18 507.03,72.06 505.51,70.55 507.63,70.22" fill="#3270a2" stroke="#18202e" stroke-width="0.8" stroke-linejoin="miter"/>
<polygon points="526,67.7 526.97,69.62 529.09,69.95 527.57,71.46 527.91,73.58 526,72.6 524.09,73.58 524.43,71.46 522.91,69.95 525.03,69.62" fill="#3270a2" stroke="#18202e" stroke-width="0.8" stroke-linejoin="miter"/>
<polygon points="543.4,52.9 544.37,54.82 546.49,55.15 544.97,56.66 545.31,58.78 543.4,57.8 541.49,58.78 541.83,56.66 540.31,55.15 542.43,54.82" fill="#3270a2" stroke="#18202e" stroke-width="0.8" stroke-linejoin="miter"/>
<polygon points="560.8,46.5 561.77,48.42 563.89,48.75 562.37,50.26 562.71,52.38 560.8,51.4 558.89,52.38 559.23,50.26 557.71,48.75 559.83,48.42" fill="#3270a2" stroke="#18202e" stroke-width="0.8" stroke-linejoin="miter"/>
<polygon points="578.2,51.8 579.17,53.72 581.29,54.05 579.77,55.56 580.11,57.68 578.2,56.7 576.29,57.68 576.63,55.56 575.11,54.05 577.23,53.72" fill="#3270a2" stroke="#18202e" stroke-width="0.8" stroke-linejoin="miter"/>
<text transform="translate(341.7,135.8) rotate(-90)" font-size="12"><tspan font-style="italic">v</tspan><tspan font-size="8.4" dy="2.4">2</tspan><tspan dy="-2.4">/(m·s</tspan><tspan font-size="8.4" dy="-4.6">−1</tspan><tspan dy="4.6">)</tspan></text>
<text x="481.6" y="235.8" font-size="11"><tspan font-style="italic">t</tspan><tspan x="485.5">/</tspan><tspan x="490">μs</tspan></text>
<text x="472.8" y="249.5" font-size="10.8">(b)<tspan x="490.1" font-size="10.3">点</tspan><tspan x="502.9">2</tspan></text>
<path d="M58.7,267.8 V461.6 H301.9" fill="none" stroke="#555" stroke-width="1"/>
<path d="M58.7,267.8 h3.6" stroke="#555" stroke-width="1"/>
<path d="M58.7,295.3 h3.6" stroke="#555" stroke-width="1"/>
<path d="M58.7,323.3 h3.6" stroke="#555" stroke-width="1"/>
<path d="M58.7,351.3 h3.6" stroke="#555" stroke-width="1"/>
<path d="M58.7,378.5 h3.6" stroke="#555" stroke-width="1"/>
<path d="M58.7,406.6 h3.6" stroke="#555" stroke-width="1"/>
<path d="M58.7,434.1 h3.6" stroke="#555" stroke-width="1"/>
<path d="M58.7,461.6 h3.6" stroke="#555" stroke-width="1"/>
<path d="M58.7,461.6 v-3.8" stroke="#555" stroke-width="1"/>
<path d="M93.3,461.6 v-3.8" stroke="#555" stroke-width="1"/>
<path d="M128.8,461.6 v-3.8" stroke="#555" stroke-width="1"/>
<path d="M163.8,461.6 v-3.8" stroke="#555" stroke-width="1"/>
<path d="M198.8,461.6 v-3.8" stroke="#555" stroke-width="1"/>
<path d="M233.2,461.6 v-3.8" stroke="#555" stroke-width="1"/>
<path d="M267.3,461.6 v-3.8" stroke="#555" stroke-width="1"/>
<path d="M301.9,461.6 v-3.8" stroke="#555" stroke-width="1"/>
<text transform="translate(56.4,272) scale(0.87,1)" text-anchor="end" font-size="11.8">2.5</text>
<text transform="translate(56.4,299.5) scale(0.87,1)" text-anchor="end" font-size="11.8">2.0</text>
<text transform="translate(56.4,327.5) scale(0.87,1)" text-anchor="end" font-size="11.8">1.5</text>
<text transform="translate(56.4,355.5) scale(0.87,1)" text-anchor="end" font-size="11.8">1.0</text>
<text transform="translate(56.4,382.7) scale(0.87,1)" text-anchor="end" font-size="11.8">0.5</text>
<text transform="translate(56.4,410.8) scale(0.87,1)" text-anchor="end" font-size="11.8">0</text>
<text transform="translate(56.4,438.3) scale(0.87,1)" text-anchor="end" font-size="11.8"><tspan font-size="15" dy="0.8">−</tspan><tspan dy="-0.8">0.5</tspan></text>
<text transform="translate(56.4,465.8) scale(0.87,1)" text-anchor="end" font-size="11.8"><tspan font-size="15" dy="0.8">−</tspan><tspan dy="-0.8">1.0</tspan></text>
<text transform="translate(59.2,475.5) scale(0.92,1)" text-anchor="middle" font-size="11.3">1 000</text>
<text transform="translate(93.8,475.5) scale(0.92,1)" text-anchor="middle" font-size="11.3">1100</text>
<text transform="translate(129.3,475.5) scale(0.92,1)" text-anchor="middle" font-size="11.3">1200</text>
<text transform="translate(164.3,475.5) scale(0.92,1)" text-anchor="middle" font-size="11.3">1300</text>
<text transform="translate(199.3,475.5) scale(0.92,1)" text-anchor="middle" font-size="11.3">1 400</text>
<text transform="translate(233.7,475.5) scale(0.92,1)" text-anchor="middle" font-size="11.3">1 500</text>
<text transform="translate(267.8,475.5) scale(0.92,1)" text-anchor="middle" font-size="11.3">1 600</text>
<text transform="translate(302.4,475.5) scale(0.92,1)" text-anchor="middle" font-size="11.3">1 700</text>
<polyline points="93.3,443.5 111.05,424.2 128.8,399.2 146.3,365.1 163.8,319.9 181.3,317.6 198.8,296.6 216,364.9 233.2,326.6 250.25,343.5 267.3,349.7" fill="none" stroke="#484848" stroke-width="1.0" stroke-linejoin="round"/>
<polyline points="111.05,443.8 128.8,437.3 146.3,390 163.8,368.4 181.3,301.2 198.8,301.2 216,314.6 233.2,358.9 250.25,336.1 267.3,320.4" fill="none" stroke="#484848" stroke-width="1.0" stroke-linejoin="round"/>
<polyline points="128.8,438.5 146.3,412.6 163.8,405 181.3,389.8 198.8,308.2 216,275.4 233.2,292.2 250.25,299.6 267.3,335.4" fill="none" stroke="#484848" stroke-width="1.0" stroke-linejoin="round"/>
<polyline points="146.3,436.9 163.8,418.9 181.3,389.8 198.8,368.6 216,365.1 233.2,338.4 250.25,277.7 267.3,277" fill="none" stroke="#484848" stroke-width="1.0" stroke-linejoin="round"/>
<rect x="90.95" y="441.15" width="4.7" height="4.7" fill="#000"/>
<rect x="108.7" y="421.85" width="4.7" height="4.7" fill="#000"/>
<rect x="126.45" y="396.85" width="4.7" height="4.7" fill="#000"/>
<rect x="143.95" y="362.75" width="4.7" height="4.7" fill="#000"/>
<rect x="161.45" y="317.55" width="4.7" height="4.7" fill="#000"/>
<rect x="178.95" y="315.25" width="4.7" height="4.7" fill="#000"/>
<rect x="196.45" y="294.25" width="4.7" height="4.7" fill="#000"/>
<rect x="213.65" y="362.55" width="4.7" height="4.7" fill="#000"/>
<rect x="230.85" y="324.25" width="4.7" height="4.7" fill="#000"/>
<rect x="247.9" y="341.15" width="4.7" height="4.7" fill="#000"/>
<rect x="264.95" y="347.35" width="4.7" height="4.7" fill="#000"/>
<circle cx="111.05" cy="443.8" r="2.3" fill="#bd612c" stroke="#5e2c10" stroke-width="0.8"/>
<circle cx="128.8" cy="437.3" r="2.3" fill="#bd612c" stroke="#5e2c10" stroke-width="0.8"/>
<circle cx="146.3" cy="390" r="2.3" fill="#bd612c" stroke="#5e2c10" stroke-width="0.8"/>
<circle cx="163.8" cy="368.4" r="2.3" fill="#bd612c" stroke="#5e2c10" stroke-width="0.8"/>
<circle cx="181.3" cy="301.2" r="2.3" fill="#bd612c" stroke="#5e2c10" stroke-width="0.8"/>
<circle cx="198.8" cy="301.2" r="2.3" fill="#bd612c" stroke="#5e2c10" stroke-width="0.8"/>
<circle cx="216" cy="314.6" r="2.3" fill="#bd612c" stroke="#5e2c10" stroke-width="0.8"/>
<circle cx="233.2" cy="358.9" r="2.3" fill="#bd612c" stroke="#5e2c10" stroke-width="0.8"/>
<circle cx="250.25" cy="336.1" r="2.3" fill="#bd612c" stroke="#5e2c10" stroke-width="0.8"/>
<circle cx="267.3" cy="320.4" r="2.3" fill="#bd612c" stroke="#5e2c10" stroke-width="0.8"/>
<polygon points="125.8,441 131.8,441 128.8,436" fill="#fff" stroke="#222" stroke-width="0.9" stroke-linejoin="miter"/>
<polygon points="143.3,415.1 149.3,415.1 146.3,410.1" fill="#fff" stroke="#222" stroke-width="0.9" stroke-linejoin="miter"/>
<polygon points="160.8,407.5 166.8,407.5 163.8,402.5" fill="#fff" stroke="#222" stroke-width="0.9" stroke-linejoin="miter"/>
<polygon points="178.3,392.3 184.3,392.3 181.3,387.3" fill="#fff" stroke="#222" stroke-width="0.9" stroke-linejoin="miter"/>
<polygon points="195.8,310.7 201.8,310.7 198.8,305.7" fill="#fff" stroke="#222" stroke-width="0.9" stroke-linejoin="miter"/>
<polygon points="213,277.9 219,277.9 216,272.9" fill="#fff" stroke="#222" stroke-width="0.9" stroke-linejoin="miter"/>
<polygon points="230.2,294.7 236.2,294.7 233.2,289.7" fill="#fff" stroke="#222" stroke-width="0.9" stroke-linejoin="miter"/>
<polygon points="247.25,302.1 253.25,302.1 250.25,297.1" fill="#fff" stroke="#222" stroke-width="0.9" stroke-linejoin="miter"/>
<polygon points="264.3,337.9 270.3,337.9 267.3,332.9" fill="#fff" stroke="#222" stroke-width="0.9" stroke-linejoin="miter"/>
<polygon points="146.3,433.8 147.27,435.72 149.39,436.05 147.87,437.56 148.21,439.68 146.3,438.7 144.39,439.68 144.73,437.56 143.21,436.05 145.33,435.72" fill="#3270a2" stroke="#18202e" stroke-width="0.8" stroke-linejoin="miter"/>
<polygon points="163.8,415.8 164.77,417.72 166.89,418.05 165.37,419.56 165.71,421.68 163.8,420.7 161.89,421.68 162.23,419.56 160.71,418.05 162.83,417.72" fill="#3270a2" stroke="#18202e" stroke-width="0.8" stroke-linejoin="miter"/>
<polygon points="181.3,386.7 182.27,388.62 184.39,388.95 182.87,390.46 183.21,392.58 181.3,391.6 179.39,392.58 179.73,390.46 178.21,388.95 180.33,388.62" fill="#3270a2" stroke="#18202e" stroke-width="0.8" stroke-linejoin="miter"/>
<polygon points="198.8,365.5 199.77,367.42 201.89,367.75 200.37,369.26 200.71,371.38 198.8,370.4 196.89,371.38 197.23,369.26 195.71,367.75 197.83,367.42" fill="#3270a2" stroke="#18202e" stroke-width="0.8" stroke-linejoin="miter"/>
<polygon points="216,362 216.97,363.92 219.09,364.25 217.57,365.76 217.91,367.88 216,366.9 214.09,367.88 214.43,365.76 212.91,364.25 215.03,363.92" fill="#3270a2" stroke="#18202e" stroke-width="0.8" stroke-linejoin="miter"/>
<polygon points="233.2,335.3 234.17,337.22 236.29,337.55 234.77,339.06 235.11,341.18 233.2,340.2 231.29,341.18 231.63,339.06 230.11,337.55 232.23,337.22" fill="#3270a2" stroke="#18202e" stroke-width="0.8" stroke-linejoin="miter"/>
<polygon points="250.25,274.6 251.22,276.52 253.34,276.85 251.82,278.36 252.16,280.48 250.25,279.5 248.34,280.48 248.68,278.36 247.16,276.85 249.28,276.52" fill="#3270a2" stroke="#18202e" stroke-width="0.8" stroke-linejoin="miter"/>
<polygon points="267.3,273.9 268.27,275.82 270.39,276.15 268.87,277.66 269.21,279.78 267.3,278.8 265.39,279.78 265.73,277.66 264.21,276.15 266.33,275.82" fill="#3270a2" stroke="#18202e" stroke-width="0.8" stroke-linejoin="miter"/>
<text transform="translate(34.5,388.7) rotate(-90)" font-size="12"><tspan font-style="italic">v</tspan><tspan font-size="8.4" dy="2.4">3</tspan><tspan dy="-2.4">/(m·s</tspan><tspan font-size="8.4" dy="-4.6">−1</tspan><tspan dy="4.6">)</tspan></text>
<text x="171.9" y="487.4" font-size="11"><tspan font-style="italic">t</tspan><tspan x="175.8">/</tspan><tspan x="180.3">μs</tspan></text>
<text x="163" y="503" font-size="10.8">(c)<tspan x="180.3" font-size="10.3">点</tspan><tspan x="193.1">3</tspan></text>
<path d="M369.3,267.7 V461.2 H613" fill="none" stroke="#555" stroke-width="1"/>
<path d="M369.3,267.7 h3.6" stroke="#555" stroke-width="1"/>
<path d="M369.3,295.3 h3.6" stroke="#555" stroke-width="1"/>
<path d="M369.3,323.1 h3.6" stroke="#555" stroke-width="1"/>
<path d="M369.3,351.2 h3.6" stroke="#555" stroke-width="1"/>
<path d="M369.3,378.3 h3.6" stroke="#555" stroke-width="1"/>
<path d="M369.3,406.4 h3.6" stroke="#555" stroke-width="1"/>
<path d="M369.3,434 h3.6" stroke="#555" stroke-width="1"/>
<path d="M369.3,461.2 h3.6" stroke="#555" stroke-width="1"/>
<path d="M369.3,461.2 v-3.8" stroke="#555" stroke-width="1"/>
<path d="M404.3,461.2 v-3.8" stroke="#555" stroke-width="1"/>
<path d="M438.85,461.2 v-3.8" stroke="#555" stroke-width="1"/>
<path d="M474,461.2 v-3.8" stroke="#555" stroke-width="1"/>
<path d="M508.8,461.2 v-3.8" stroke="#555" stroke-width="1"/>
<path d="M543.5,461.2 v-3.8" stroke="#555" stroke-width="1"/>
<path d="M578.1,461.2 v-3.8" stroke="#555" stroke-width="1"/>
<path d="M613,461.2 v-3.8" stroke="#555" stroke-width="1"/>
<text transform="translate(367,271.9) scale(0.87,1)" text-anchor="end" font-size="11.8">2.5</text>
<text transform="translate(367,299.5) scale(0.87,1)" text-anchor="end" font-size="11.8">2.0</text>
<text transform="translate(367,327.3) scale(0.87,1)" text-anchor="end" font-size="11.8">1.5</text>
<text transform="translate(367,355.4) scale(0.87,1)" text-anchor="end" font-size="11.8">1.0</text>
<text transform="translate(367,382.5) scale(0.87,1)" text-anchor="end" font-size="11.8">0.5</text>
<text transform="translate(367,410.6) scale(0.87,1)" text-anchor="end" font-size="11.8">0</text>
<text transform="translate(367,438.2) scale(0.87,1)" text-anchor="end" font-size="11.8"><tspan font-size="15" dy="0.8">−</tspan><tspan dy="-0.8">0.5</tspan></text>
<text transform="translate(367,465.4) scale(0.87,1)" text-anchor="end" font-size="11.8"><tspan font-size="15" dy="0.8">−</tspan><tspan dy="-0.8">1.0</tspan></text>
<text transform="translate(369.8,475.1) scale(0.92,1)" text-anchor="middle" font-size="11.3">1 000</text>
<text transform="translate(404.8,475.1) scale(0.92,1)" text-anchor="middle" font-size="11.3">1100</text>
<text transform="translate(439.35,475.1) scale(0.92,1)" text-anchor="middle" font-size="11.3">1200</text>
<text transform="translate(474.5,475.1) scale(0.92,1)" text-anchor="middle" font-size="11.3">1300</text>
<text transform="translate(509.3,475.1) scale(0.92,1)" text-anchor="middle" font-size="11.3">1 400</text>
<text transform="translate(544,475.1) scale(0.92,1)" text-anchor="middle" font-size="11.3">1 500</text>
<text transform="translate(578.6,475.1) scale(0.92,1)" text-anchor="middle" font-size="11.3">1 600</text>
<text transform="translate(613.5,475.1) scale(0.92,1)" text-anchor="middle" font-size="11.3">1 700</text>
<polyline points="386.8,315.9 404.3,315.9 421.58,315.9 438.85,315.5 456.43,289 474,413.8 491.4,396.4 508.8,367 526.15,328 543.5,344.5 560.8,389.3 578.1,394.3" fill="none" stroke="#484848" stroke-width="1.0" stroke-linejoin="round"/>
<polyline points="386.8,345.1 404.3,323.3 421.58,311.3 438.85,308.7 456.43,307.7 474,292.2 491.4,388.9 508.8,364.5 526.15,359.3 543.5,358 560.8,361.3 578.1,363" fill="none" stroke="#484848" stroke-width="1.0" stroke-linejoin="round"/>
<polyline points="386.8,356.7 404.3,300.7 421.58,296.4 438.85,297.1 456.43,303.8 474,313 491.4,313 508.8,303.3 526.15,329.3 543.5,345.5 560.8,351.8 578.1,353" fill="none" stroke="#484848" stroke-width="1.0" stroke-linejoin="round"/>
<polyline points="386.8,376.8 404.3,297.9 421.58,290.5 438.85,287.3 456.43,284.2 474,300.6 491.4,310.5 508.8,308.8 526.15,310.8 543.5,311.3 560.8,318.3 578.1,323" fill="none" stroke="#484848" stroke-width="1.0" stroke-linejoin="round"/>
<rect x="384.45" y="313.55" width="4.7" height="4.7" fill="#000"/>
<rect x="401.95" y="313.55" width="4.7" height="4.7" fill="#000"/>
<rect x="419.23" y="313.55" width="4.7" height="4.7" fill="#000"/>
<rect x="436.5" y="313.15" width="4.7" height="4.7" fill="#000"/>
<rect x="454.07" y="286.65" width="4.7" height="4.7" fill="#000"/>
<rect x="471.65" y="411.45" width="4.7" height="4.7" fill="#000"/>
<rect x="489.05" y="394.05" width="4.7" height="4.7" fill="#000"/>
<rect x="506.45" y="364.65" width="4.7" height="4.7" fill="#000"/>
<rect x="523.8" y="325.65" width="4.7" height="4.7" fill="#000"/>
<rect x="541.15" y="342.15" width="4.7" height="4.7" fill="#000"/>
<rect x="558.45" y="386.95" width="4.7" height="4.7" fill="#000"/>
<rect x="575.75" y="391.95" width="4.7" height="4.7" fill="#000"/>
<circle cx="386.8" cy="345.1" r="2.3" fill="#bd612c" stroke="#5e2c10" stroke-width="0.8"/>
<circle cx="404.3" cy="323.3" r="2.3" fill="#bd612c" stroke="#5e2c10" stroke-width="0.8"/>
<circle cx="421.58" cy="311.3" r="2.3" fill="#bd612c" stroke="#5e2c10" stroke-width="0.8"/>
<circle cx="438.85" cy="308.7" r="2.3" fill="#bd612c" stroke="#5e2c10" stroke-width="0.8"/>
<circle cx="456.43" cy="307.7" r="2.3" fill="#bd612c" stroke="#5e2c10" stroke-width="0.8"/>
<circle cx="474" cy="292.2" r="2.3" fill="#bd612c" stroke="#5e2c10" stroke-width="0.8"/>
<circle cx="491.4" cy="388.9" r="2.3" fill="#bd612c" stroke="#5e2c10" stroke-width="0.8"/>
<circle cx="508.8" cy="364.5" r="2.3" fill="#bd612c" stroke="#5e2c10" stroke-width="0.8"/>
<circle cx="526.15" cy="359.3" r="2.3" fill="#bd612c" stroke="#5e2c10" stroke-width="0.8"/>
<circle cx="543.5" cy="358" r="2.3" fill="#bd612c" stroke="#5e2c10" stroke-width="0.8"/>
<circle cx="560.8" cy="361.3" r="2.3" fill="#bd612c" stroke="#5e2c10" stroke-width="0.8"/>
<circle cx="578.1" cy="363" r="2.3" fill="#bd612c" stroke="#5e2c10" stroke-width="0.8"/>
<polygon points="383.8,359.2 389.8,359.2 386.8,354.2" fill="#fff" stroke="#222" stroke-width="0.9" stroke-linejoin="miter"/>
<polygon points="401.3,303.2 407.3,303.2 404.3,298.2" fill="#fff" stroke="#222" stroke-width="0.9" stroke-linejoin="miter"/>
<polygon points="418.58,298.9 424.58,298.9 421.58,293.9" fill="#fff" stroke="#222" stroke-width="0.9" stroke-linejoin="miter"/>
<polygon points="435.85,299.6 441.85,299.6 438.85,294.6" fill="#fff" stroke="#222" stroke-width="0.9" stroke-linejoin="miter"/>
<polygon points="453.43,306.3 459.43,306.3 456.43,301.3" fill="#fff" stroke="#222" stroke-width="0.9" stroke-linejoin="miter"/>
<polygon points="471,315.5 477,315.5 474,310.5" fill="#fff" stroke="#222" stroke-width="0.9" stroke-linejoin="miter"/>
<polygon points="488.4,315.5 494.4,315.5 491.4,310.5" fill="#fff" stroke="#222" stroke-width="0.9" stroke-linejoin="miter"/>
<polygon points="505.8,305.8 511.8,305.8 508.8,300.8" fill="#fff" stroke="#222" stroke-width="0.9" stroke-linejoin="miter"/>
<polygon points="523.15,331.8 529.15,331.8 526.15,326.8" fill="#fff" stroke="#222" stroke-width="0.9" stroke-linejoin="miter"/>
<polygon points="540.5,348 546.5,348 543.5,343" fill="#fff" stroke="#222" stroke-width="0.9" stroke-linejoin="miter"/>
<polygon points="557.8,354.3 563.8,354.3 560.8,349.3" fill="#fff" stroke="#222" stroke-width="0.9" stroke-linejoin="miter"/>
<polygon points="575.1,355.5 581.1,355.5 578.1,350.5" fill="#fff" stroke="#222" stroke-width="0.9" stroke-linejoin="miter"/>
<polygon points="386.8,373.7 387.77,375.62 389.89,375.95 388.37,377.46 388.71,379.58 386.8,378.6 384.89,379.58 385.23,377.46 383.71,375.95 385.83,375.62" fill="#3270a2" stroke="#18202e" stroke-width="0.8" stroke-linejoin="miter"/>
<polygon points="404.3,294.8 405.27,296.72 407.39,297.05 405.87,298.56 406.21,300.68 404.3,299.7 402.39,300.68 402.73,298.56 401.21,297.05 403.33,296.72" fill="#3270a2" stroke="#18202e" stroke-width="0.8" stroke-linejoin="miter"/>
<polygon points="421.58,287.4 422.54,289.32 424.67,289.65 423.14,291.16 423.49,293.28 421.58,292.3 419.66,293.28 420.01,291.16 418.48,289.65 420.61,289.32" fill="#3270a2" stroke="#18202e" stroke-width="0.8" stroke-linejoin="miter"/>
<polygon points="438.85,284.2 439.82,286.12 441.94,286.45 440.42,287.96 440.76,290.08 438.85,289.1 436.94,290.08 437.28,287.96 435.76,286.45 437.88,286.12" fill="#3270a2" stroke="#18202e" stroke-width="0.8" stroke-linejoin="miter"/>
<polygon points="456.43,281.1 457.39,283.02 459.52,283.35 457.99,284.86 458.34,286.98 456.43,286 454.51,286.98 454.86,284.86 453.33,283.35 455.46,283.02" fill="#3270a2" stroke="#18202e" stroke-width="0.8" stroke-linejoin="miter"/>
<polygon points="474,297.5 474.97,299.42 477.09,299.75 475.57,301.26 475.91,303.38 474,302.4 472.09,303.38 472.43,301.26 470.91,299.75 473.03,299.42" fill="#3270a2" stroke="#18202e" stroke-width="0.8" stroke-linejoin="miter"/>
<polygon points="491.4,307.4 492.37,309.32 494.49,309.65 492.97,311.16 493.31,313.28 491.4,312.3 489.49,313.28 489.83,311.16 488.31,309.65 490.43,309.32" fill="#3270a2" stroke="#18202e" stroke-width="0.8" stroke-linejoin="miter"/>
<polygon points="508.8,305.7 509.77,307.62 511.89,307.95 510.37,309.46 510.71,311.58 508.8,310.6 506.89,311.58 507.23,309.46 505.71,307.95 507.83,307.62" fill="#3270a2" stroke="#18202e" stroke-width="0.8" stroke-linejoin="miter"/>
<polygon points="526.15,307.7 527.12,309.62 529.24,309.95 527.72,311.46 528.06,313.58 526.15,312.6 524.24,313.58 524.58,311.46 523.06,309.95 525.18,309.62" fill="#3270a2" stroke="#18202e" stroke-width="0.8" stroke-linejoin="miter"/>
<polygon points="543.5,308.2 544.47,310.12 546.59,310.45 545.07,311.96 545.41,314.08 543.5,313.1 541.59,314.08 541.93,311.96 540.41,310.45 542.53,310.12" fill="#3270a2" stroke="#18202e" stroke-width="0.8" stroke-linejoin="miter"/>
<polygon points="560.8,315.2 561.77,317.12 563.89,317.45 562.37,318.96 562.71,321.08 560.8,320.1 558.89,321.08 559.23,318.96 557.71,317.45 559.83,317.12" fill="#3270a2" stroke="#18202e" stroke-width="0.8" stroke-linejoin="miter"/>
<polygon points="578.1,319.9 579.07,321.82 581.19,322.15 579.67,323.66 580.01,325.78 578.1,324.8 576.19,325.78 576.53,323.66 575.01,322.15 577.13,321.82" fill="#3270a2" stroke="#18202e" stroke-width="0.8" stroke-linejoin="miter"/>
<text transform="translate(342,387.5) rotate(-90)" font-size="12"><tspan font-style="italic">v</tspan><tspan font-size="8.4" dy="2.4">4</tspan><tspan dy="-2.4">/(m·s</tspan><tspan font-size="8.4" dy="-4.6">−1</tspan><tspan dy="4.6">)</tspan></text>
<text x="481.3" y="487.2" font-size="11"><tspan font-style="italic">t</tspan><tspan x="485.2">/</tspan><tspan x="489.7">μs</tspan></text>
<text x="472.7" y="502.7" font-size="10.8">(d)<tspan x="490" font-size="10.3">点</tspan><tspan x="502.8">4</tspan></text>
<path d="M233.8,514.2 H247" stroke="#484848" stroke-width="0.9"/>
<rect x="238.05" y="511.85" width="4.7" height="4.7" fill="#000"/>
<text x="249.5" y="517.9" font-size="10.5">0,</text>
<path d="M265.6,514.2 H278.8" stroke="#484848" stroke-width="0.9"/>
<circle cx="272.2" cy="514.2" r="2.3" fill="#bd612c" stroke="#5e2c10" stroke-width="0.8"/>
<text x="281.2" y="517.9" font-size="10.5">100 kPa,</text>
<path d="M326.5,514.2 H340.3" stroke="#484848" stroke-width="0.9"/>
<polygon points="330.4,516.7 336.4,516.7 333.4,511.7" fill="#fff" stroke="#222" stroke-width="0.9" stroke-linejoin="miter"/>
<text x="342.5" y="517.9" font-size="10.5">130 kPa,</text>
<path d="M385.9,514.2 H399.7" stroke="#484848" stroke-width="0.9"/>
<polygon points="392.8,511.1 393.77,513.02 395.89,513.35 394.37,514.86 394.71,516.98 392.8,516 390.89,516.98 391.23,514.86 389.71,513.35 391.83,513.02" fill="#3270a2" stroke="#18202e" stroke-width="0.8" stroke-linejoin="miter"/>
<text x="402.1" y="517.9" font-size="10.5">160 kPa</text>
</svg>
</body></html>
